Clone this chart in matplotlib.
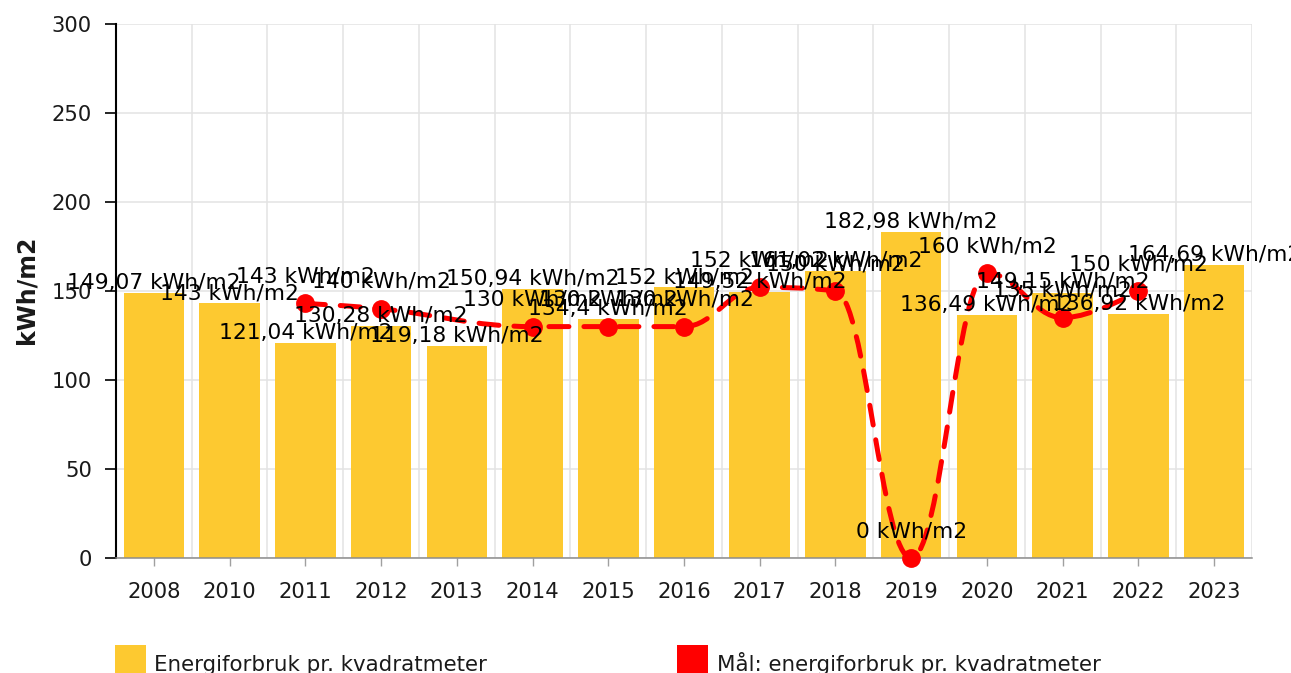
import matplotlib
matplotlib.use('Agg')
import matplotlib.pyplot as plt
from matplotlib.path import Path
from matplotlib.patches import PathPatch, Rectangle
import numpy as np

years = ['2008', '2010', '2011', '2012', '2013', '2014', '2015', '2016',
         '2017', '2018', '2019', '2020', '2021', '2022', '2023']
usage = [149.07, 143, 121.04, 130.28, 119.18, 150.94, 134.4, 152,
         149.52, 161.02, 182.98, 136.49, 149.15, 136.92, 164.69]
target = [None, None, 143, 140, None, 130, 130, 130,
          152, 150, 0, 160, 135, 150, None]
yticks = [0, 50, 100, 150, 200, 250, 300]
unit = 'kWh/m2'
legend_labels = ['Energiforbruk pr. kvadratmeter', 'Mål: energiforbruk pr. kvadratmeter']

BAR_COLOR = '#FDC930'
LINE_COLOR = '#FF0000'
TEXT = '#1a1a1a'

W, H = 1291, 673
fig = plt.figure(figsize=(W / 100, H / 100), dpi=100)
ax = fig.add_axes([116 / W, 1 - 558 / H, (1252 - 116) / W, (558 - 24) / H])

x = np.arange(len(years))
ax.bar(x, usage, width=0.8, color=BAR_COLOR, zorder=2)


def fmt(v):
    return f"{v:g}".replace('.', ',') + ' ' + unit


def hc_spline(xs, ys, smoothing=1.5):
    denom = smoothing + 1
    n = len(xs)
    verts = [(xs[0], ys[0])]
    codes = [Path.MOVETO]
    right = [None] * n
    for i in range(1, n):
        px, py = xs[i], ys[i]
        lcx, lcy = px, py
        if i < n - 1:
            lx, ly = xs[i - 1], ys[i - 1]
            nx, ny = xs[i + 1], ys[i + 1]
            lcx = (smoothing * px + lx) / denom
            lcy = (smoothing * py + ly) / denom
            rcx = (smoothing * px + nx) / denom
            rcy = (smoothing * py + ny) / denom
            corr = 0
            if rcx != lcx:
                corr = (rcy - lcy) * (rcx - px) / (rcx - lcx) + py - rcy
            lcy += corr
            rcy += corr
            if lcy > ly and lcy > py:
                lcy = max(ly, py)
                rcy = 2 * py - lcy
            elif lcy < ly and lcy < py:
                lcy = min(ly, py)
                rcy = 2 * py - lcy
            if rcy > ny and rcy > py:
                rcy = max(ny, py)
                lcy = 2 * py - rcy
            elif rcy < ny and rcy < py:
                rcy = min(ny, py)
                lcy = 2 * py - rcy
            right[i] = (rcx, rcy)
        prev = right[i - 1] if right[i - 1] is not None else (xs[i - 1], ys[i - 1])
        verts += [prev, (lcx, lcy), (px, py)]
        codes += [Path.CURVE4] * 3
    return Path(verts, codes)


tx = [xi for xi, t in zip(x, target) if t is not None]
ty = [t for t in target if t is not None]
path = hc_spline([float(v) for v in tx], [float(v) for v in ty])
patch = PathPatch(path, fill=False, edgecolor=LINE_COLOR, lw=3.6,
                  linestyle=(0, (4, 3)), capstyle='round', joinstyle='round',
                  zorder=3, clip_on=False)
ax.add_patch(patch)
ax.plot(tx, ty, 'o', ms=12.5, color=LINE_COLOR, zorder=4, clip_on=False)

for xi, v in zip(x, usage):
    ax.annotate(fmt(v), (xi, v), xytext=(0, 2.9), textcoords='offset points',
                ha='center', va='baseline', fontsize=15.7, color='black',
                annotation_clip=False, zorder=5)
for xi, v in zip(tx, ty):
    ax.annotate(fmt(v), (xi, v), xytext=(0, 15.1), textcoords='offset points',
                ha='center', va='baseline', fontsize=15.7, color='black',
                annotation_clip=False, zorder=6)

ax.set_xlim(-0.5, len(years) - 0.5)
ax.set_ylim(0, 300)
ax.set_yticks(yticks)
ax.set_xticks(x)
ax.set_xticklabels(years)
ax.set_xticks(np.arange(-0.5, len(years), 1), minor=True)
ax.set_axisbelow(True)
ax.grid(axis='y', which='major', color='#e3e3e3', lw=1.1)
ax.grid(axis='x', which='minor', color='#e3e3e3', lw=1.1)
ax.grid(axis='x', which='major', visible=False)

for s in ['top', 'right']:
    ax.spines[s].set_visible(False)
ax.spines['left'].set_color('black')
ax.spines['left'].set_linewidth(1.5)
ax.spines['bottom'].set_color('#8c8c8c')
ax.spines['bottom'].set_linewidth(1.1)

ax.tick_params(axis='y', length=8, width=1.2, color='black', pad=9.4,
               labelsize=15.2, labelcolor=TEXT)
ax.tick_params(axis='x', which='major', length=5.8, width=1, color='#a0a0a0',
               pad=11.5, labelsize=15.2, labelcolor=TEXT)
ax.tick_params(axis='x', which='minor', length=0)

fig.text(26 / W, 1 - 290 / H, unit, rotation=90, ha='center', va='center',
         fontsize=17, fontweight='bold', color=TEXT)

# legend
for lx, tx0, col, lab in [(115, 154, BAR_COLOR, legend_labels[0]),
                          (677, 717, LINE_COLOR, legend_labels[1])]:
    fig.patches.append(Rectangle((lx / W, 1 - 676 / H), 31 / W, 31 / H,
                                 transform=fig.transFigure, facecolor=col,
                                 edgecolor='none'))
    fig.text(tx0 / W, 1 - 671 / H, lab, ha='left', va='baseline',
             fontsize=15.4, color=TEXT)

fig.savefig('out.png', dpi=100)
